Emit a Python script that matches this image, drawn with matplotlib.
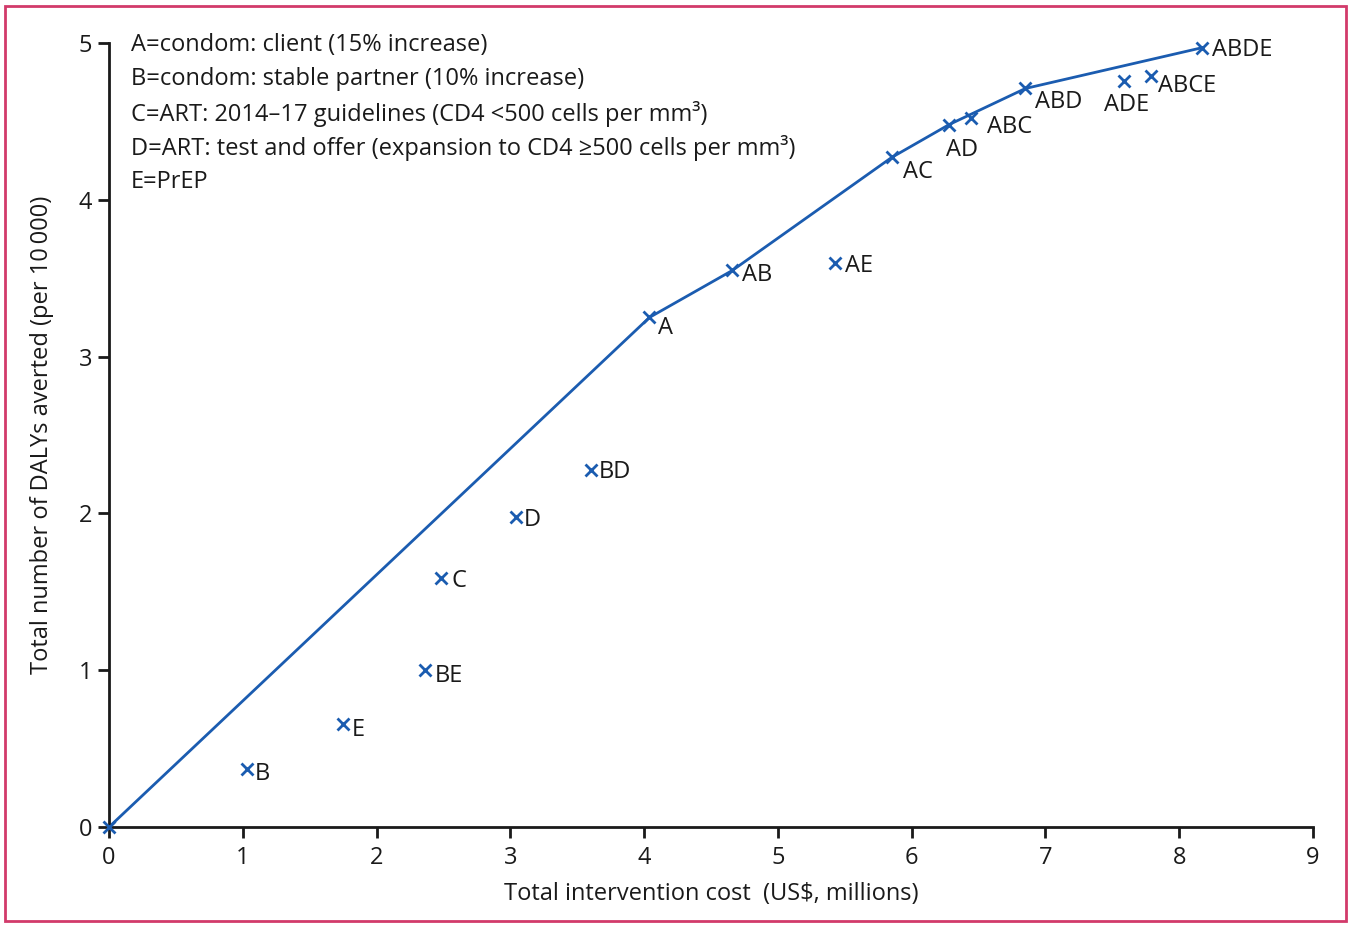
import matplotlib
matplotlib.use('Agg')
import matplotlib.pyplot as plt
from matplotlib.patches import Rectangle

plt.rcParams['font.family'] = ['Open Sans', 'DejaVu Sans']

# strategy combinations: cost (US$ millions) vs DALYs averted (per 10 000)
names = ['', 'B', 'E', 'BE', 'C', 'D', 'BD', 'A', 'AB', 'AE', 'AC', 'AD',
         'ABC', 'ABD', 'ADE', 'ABCE', 'ABDE']
cost = [0.0, 1.03, 1.75, 2.36, 2.48, 3.04, 3.60, 4.04, 4.66, 5.43, 5.85, 6.28,
        6.44, 6.85, 7.59, 7.79, 8.17]
dalys = [0.0, 0.37, 0.66, 1.00, 1.59, 1.98, 2.28, 3.25, 3.55, 3.60, 4.27, 4.48,
         4.52, 4.71, 4.76, 4.79, 4.97]

# efficiency frontier
frontier = ['', 'A', 'AB', 'AC', 'AD', 'ABD', 'ABDE']

key_lines = ['A=condom: client (15% increase)',
             'B=condom: stable partner (10% increase)',
             'C=ART: 2014\u201317 guidelines (CD4 <500 cells per mm\u00b3)',
             'D=ART: test and offer (expansion to CD4 \u2265500 cells per mm\u00b3)',
             'E=PrEP']

# label offsets in points (dx, dy)
offsets = {'B': (6, -2), 'E': (6, -3), 'BE': (7, -3),
           'C': (8, -1), 'D': (6, -1), 'BD': (6, 0),
           'A': (6, -6), 'AB': (7, -2), 'AE': (7, -1),
           'AC': (8, -9), 'AD': (-2, -17), 'ABC': (12, -5),
           'ABD': (7, -8), 'ADE': (-15, -16), 'ABCE': (5, -6),
           'ABDE': (7, 0)}

blue = '#1b5cb0'
ink = '#1a1a1a'
fs = 17

fig = plt.figure(figsize=(13.51, 9.25), dpi=100)
ax = fig.add_axes([0.0807, 0.1059, 0.8912, 0.8476])

fx = [cost[names.index(n)] for n in frontier]
fy = [dalys[names.index(n)] for n in frontier]
ax.plot(fx, fy, color=blue, lw=2, zorder=2)
ax.plot(cost, dalys, 'x', color=blue, ms=9, mew=2, zorder=3, clip_on=False)

for n, x, y in zip(names, cost, dalys):
    if not n:
        continue
    dx, dy = offsets[n]
    ax.annotate(n, (x, y), xytext=(dx, dy - 1.5), textcoords='offset points',
                ha='left', va='center', fontsize=fs, color=ink)

# key, one line at a time from the top of the axes
for i, line in enumerate(key_lines):
    ax.annotate(line, (0.018, 1.0), xycoords='axes fraction',
                xytext=(0, -1.5 - 24.7 * i), textcoords='offset points',
                ha='left', va='center', fontsize=fs, color=ink)

ax.set_xlim(0, 9)
ax.set_ylim(0, 5)
ax.set_xticks(range(0, 10))
ax.set_yticks(range(0, 6))
for s in ['top', 'right']:
    ax.spines[s].set_visible(False)
for s in ['left', 'bottom']:
    ax.spines[s].set_linewidth(2)
    ax.spines[s].set_color(ink)
ax.tick_params(length=8, width=2, labelsize=fs, colors=ink)
ax.tick_params(axis='x', pad=6)
ax.tick_params(axis='y', pad=4)
ax.set_xlabel('Total intervention cost  (US$, millions)', fontsize=fs,
              color=ink, labelpad=8)
ax.set_ylabel('Total number of DALYs averted (per 10\u2009000)', fontsize=fs,
              color=ink, labelpad=18)

# outer frame
fig.patches.append(Rectangle((0.004, 0.004), 0.992, 0.989, transform=fig.transFigure,
                             fill=False, edgecolor='#d23a6a', lw=2))

fig.savefig('out.png', dpi=100)
